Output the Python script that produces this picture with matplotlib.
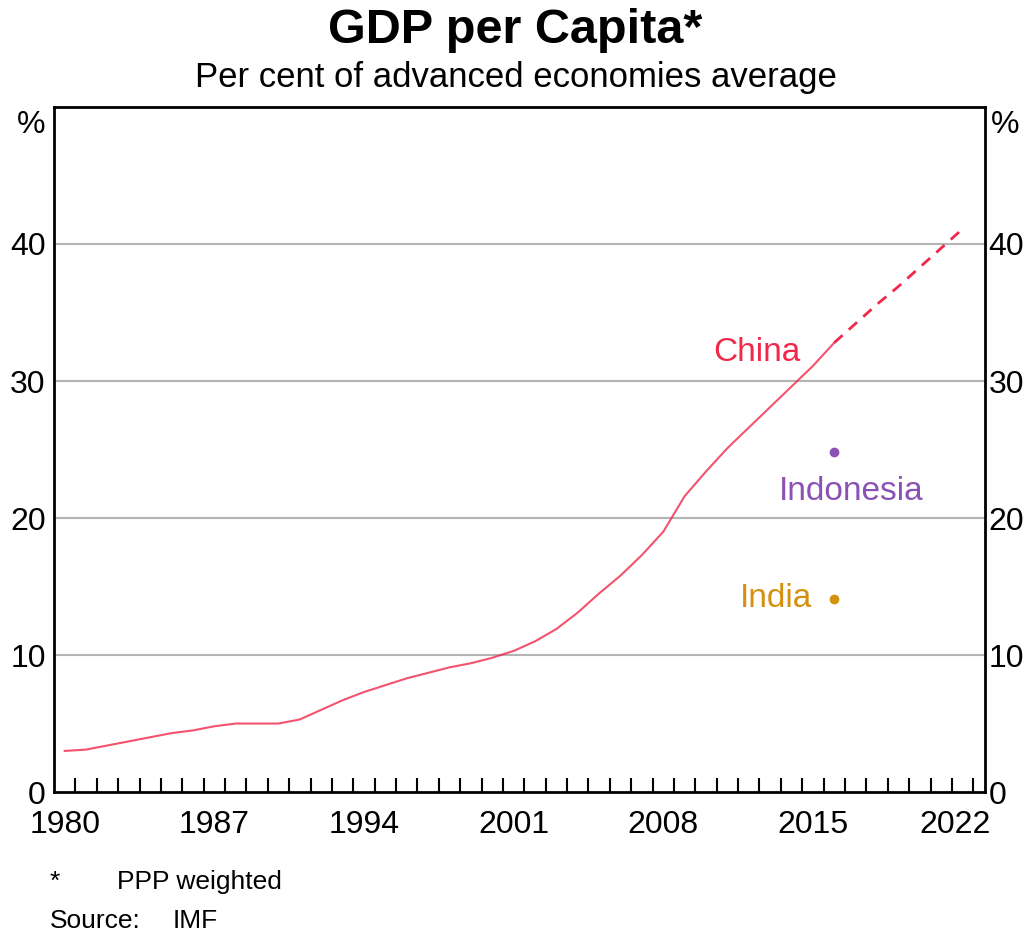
import numpy as np
import matplotlib.pyplot as plt
from matplotlib.ticker import FixedLocator
from matplotlib.transforms import ScaledTranslation

plt.rcParams['font.family'] = ['Liberation Sans', 'DejaVu Sans']

# China, per cent of advanced economies average (IMF, PPP weighted)
years = list(range(1980, 2017))
china = [3.0, 3.1, 3.4, 3.7, 4.0, 4.3, 4.5, 4.8, 5.0, 5.0,
         5.0, 5.3, 6.0, 6.7, 7.3, 7.8, 8.3, 8.7, 9.1, 9.4,
         9.8, 10.3, 11.0, 11.9, 13.1, 14.5, 15.8, 17.3, 19.0, 21.6,
         23.4, 25.1, 26.6, 28.1, 29.6, 31.1, 32.8]
fc_years = list(range(2016, 2023))
china_fc = [32.8, 34.2, 35.6, 36.9, 38.3, 39.7, 41.1]
dot_year = 2016
indonesia = 24.8
india = 14.1

xticks = [1980, 1987, 1994, 2001, 2008, 2015, 2022]
yticks = [0, 10, 20, 30, 40]

red = '#f0284a'
purple = '#8a52b4'
gold = '#d4900e'

fig = plt.figure(figsize=(10.31, 9.36), dpi=100)
ax = fig.add_axes([0.0524, 0.1538, 0.9030, 0.7319])

# annual data plotted at mid-year
x = np.array(years) + 0.5
xf = np.array(fc_years) + 0.5
ax.plot(x, china, color=red, lw=1.5, alpha=0.8, zorder=3)
ax.plot(xf, china_fc, color=red, lw=2.0, ls=(0, (4, 3)), zorder=3)
ax.plot(dot_year + 0.5, indonesia, 'o', color=purple, ms=6, zorder=4)
ax.plot(dot_year + 0.5, india, 'o', color=gold, ms=6, zorder=4)

ax.text(2012.9, 32.1, 'China', color=red, fontsize=24, ha='center', va='center')
ax.text(2017.3, 21.9, 'Indonesia', color=purple, fontsize=24, ha='center', va='center')
ax.text(2015.45, 14.1, 'India', color=gold, fontsize=24, ha='right', va='center')

ax.set_xlim(1980, 2023.55)
ax.set_ylim(0, 50)

for v in yticks[1:]:
    ax.axhline(v, color='#b4b4b4', lw=1.5, zorder=1)

ax.set_yticks(yticks)
ax.set_yticklabels([str(v) for v in yticks])
ax.tick_params(axis='y', which='both', length=0, labelsize=23, pad=6,
               left=True, right=True, labelleft=True, labelright=True)

ax.set_xticks([v + 0.5 for v in xticks])
ax.set_xticklabels([str(v) for v in xticks])
ax.xaxis.set_minor_locator(FixedLocator(list(range(1981, 2024))))
ax.tick_params(axis='x', which='major', length=0, labelsize=23, pad=13)
ax.tick_params(axis='x', which='minor', direction='in', length=10, width=1.5,
               color='black', bottom=True, top=False)

# right-hand labels sit closer to the axis
for t in ax.yaxis.get_major_ticks():
    t.label2.set_transform(t.label2.get_transform() +
                           ScaledTranslation(-0.05, 0, fig.dpi_scale_trans))
# last year label pulled inside the frame
last = ax.xaxis.get_major_ticks()[-1]
last.label1.set_transform(last.label1.get_transform() +
                          ScaledTranslation(-0.08, 0, fig.dpi_scale_trans))

for s in ax.spines.values():
    s.set_linewidth(2)
    s.set_color('black')

ax.text(-0.009, 0.974, '%', transform=ax.transAxes, fontsize=23, ha='right', va='center')
ax.text(1.006, 0.974, '%', transform=ax.transAxes, fontsize=23, ha='left', va='center')

fig.text(0.5, 0.967, 'GDP per Capita*', fontsize=35, fontweight='bold', ha='center', va='center')
fig.text(0.5, 0.917, 'Per cent of advanced economies average', fontsize=25, ha='center', va='center')

fig.text(0.048, 0.058, '*', fontsize=19, ha='left', va='center')
fig.text(0.113, 0.058, 'PPP weighted', fontsize=19, ha='left', va='center')
fig.text(0.048, 0.016, 'Source:', fontsize=19, ha='left', va='center')
fig.text(0.167, 0.016, 'IMF', fontsize=19, ha='left', va='center')

fig.savefig('out.png', dpi=100)
